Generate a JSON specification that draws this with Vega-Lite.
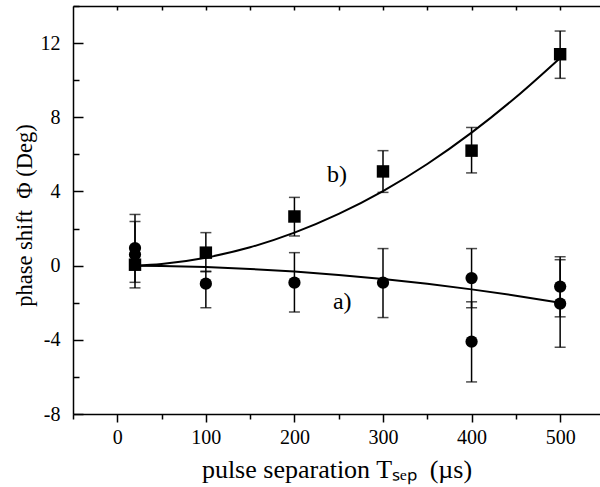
{
  "$schema": "https://vega.github.io/schema/vega-lite/v6.json",
  "width": 527,
  "height": 408,
  "autosize": {"type": "none"},
  "padding": {"left": 73, "top": 6, "right": 0, "bottom": 73},
  "background": "white",
  "config": {
    "view": {"stroke": null},
    "axis": {
      "domainColor": "black", "domainWidth": 1.5, "tickColor": "black", "tickWidth": 1.5,
      "labelFont": "Liberation Serif", "labelFontSize": 20, "labelColor": "black",
      "titleFont": "Liberation Serif", "titleColor": "black", "titleFontWeight": "normal",
      "grid": false
    }
  },
  "datasets": {
    "points": [
      {"series": "b", "x": 20, "y": 0.05, "lo": null, "hi": null},
      {"series": "b", "x": 100, "y": 0.7, "lo": -0.33, "hi": 1.78},
      {"series": "b", "x": 200, "y": 2.65, "lo": 1.6, "hi": 3.68},
      {"series": "b", "x": 300, "y": 5.08, "lo": 3.95, "hi": 6.2},
      {"series": "b", "x": 400, "y": 6.2, "lo": 5.0, "hi": 7.45},
      {"series": "b", "x": 500, "y": 11.4, "lo": 10.1, "hi": 12.65},
      {"series": "a", "x": 20, "y": 0.95, "lo": -0.9, "hi": 2.76},
      {"series": "a", "x": 20, "y": 0.6, "lo": -1.2, "hi": 2.38},
      {"series": "a", "x": 100, "y": -0.97, "lo": -2.27, "hi": -0.3},
      {"series": "a", "x": 200, "y": -0.92, "lo": -2.5, "hi": 0.7},
      {"series": "a", "x": 300, "y": -0.92, "lo": -2.8, "hi": 0.92},
      {"series": "a", "x": 400, "y": -0.67, "lo": -2.27, "hi": 0.92},
      {"series": "a", "x": 400, "y": -4.1, "lo": -6.27, "hi": -1.95},
      {"series": "a", "x": 500, "y": -1.13, "lo": -2.76, "hi": 0.48},
      {"series": "a", "x": 500, "y": -2.05, "lo": -4.4, "hi": 0.32}
    ],
    "curves": [
      {"series": "b", "x": 20, "y": 0},
      {"series": "b", "x": 50, "y": 0.09},
      {"series": "b", "x": 100, "y": 0.43},
      {"series": "b", "x": 150, "y": 0.99},
      {"series": "b", "x": 200, "y": 1.78},
      {"series": "b", "x": 250, "y": 2.79},
      {"series": "b", "x": 300, "y": 4.02},
      {"series": "b", "x": 350, "y": 5.48},
      {"series": "b", "x": 400, "y": 7.17},
      {"series": "b", "x": 450, "y": 9.08},
      {"series": "b", "x": 500, "y": 11.2},
      {"series": "a", "x": 20, "y": 0},
      {"series": "a", "x": 50, "y": -0.017},
      {"series": "a", "x": 100, "y": -0.077},
      {"series": "a", "x": 150, "y": -0.18},
      {"series": "a", "x": 200, "y": -0.32},
      {"series": "a", "x": 250, "y": -0.5},
      {"series": "a", "x": 300, "y": -0.72},
      {"series": "a", "x": 350, "y": -0.98},
      {"series": "a", "x": 400, "y": -1.28},
      {"series": "a", "x": 450, "y": -1.62},
      {"series": "a", "x": 500, "y": -2.0}
    ],
    "labels": [
      {"x": 248, "y": 4.9, "text": "b)"},
      {"x": 254, "y": -1.95, "text": "a)"}
    ]
  },
  "layer": [
    {
      "data": {"name": "curves"},
      "mark": {"type": "line", "color": "black", "strokeWidth": 2, "interpolate": "monotone"},
      "encoding": {
        "x": {"field": "x", "type": "quantitative", "scale": {"domain": [-50, 545], "nice": false, "zero": false},
          "axis": {"orient": "bottom", "values": [0, 100, 200, 300, 400, 500], "tickSize": 8, "labelPadding": 5,
            "title": "pulse separation Tₛₑₚ\u00a0\u00a0(µs)", "titleFontSize": 26, "titleY": 63, "titleBaseline": "alphabetic"}},
        "y": {"field": "y", "type": "quantitative", "scale": {"domain": [-8, 14], "nice": false, "zero": false},
          "axis": {"orient": "left", "values": [-8, -4, 0, 4, 8, 12], "tickSize": -10, "labelPadding": 23,
            "labelExpr": "'' + datum.value",
            "title": "phase shift\u00a0\u00a0Φ (Deg)", "titleFontSize": 22.5, "titleAnchor": "middle", "titleX": -42, "titleY": 209, "titleBaseline": "alphabetic", "titleAngle": -90}},
        "detail": {"field": "series"}
      }
    },
    {
      "data": {"name": "points"},
      "mark": {"type": "rule", "color": "black", "strokeWidth": 1.5},
      "encoding": {
        "x": {"field": "x", "type": "quantitative",
          "axis": {"orient": "bottom", "values": [-50, 50, 150, 250, 350, 450], "tickSize": 5, "labels": false, "domain": false, "title": null}},
        "y": {"field": "lo", "type": "quantitative",
          "axis": {"orient": "left", "values": [-6, -2, 2, 6, 10, 14], "tickSize": -6, "labels": false, "domain": false, "title": null}},
        "y2": {"field": "hi"}
      }
    },
    {
      "data": {"name": "points"},
      "transform": [{"fold": ["lo", "hi"], "as": ["end", "val"]}],
      "mark": {"type": "tick", "color": "black", "thickness": 1.5, "size": 11, "orient": "horizontal"},
      "encoding": {
        "x": {"field": "x", "type": "quantitative",
          "axis": {"orient": "top", "values": [0, 50, 100, 150, 200, 250, 300, 350, 400, 450, 500], "tickSize": -4, "labels": false, "title": null}},
        "y": {"field": "val", "type": "quantitative", "axis": null}
      }
    },
    {
      "data": {"name": "points"},
      "mark": {"type": "point", "filled": true, "opacity": 1, "color": "black"},
      "encoding": {
        "x": {"field": "x", "type": "quantitative", "axis": null},
        "y": {"field": "y", "type": "quantitative", "axis": null},
        "shape": {"field": "series", "type": "nominal", "scale": {"domain": ["a", "b"], "range": ["circle", "square"]}, "legend": null},
        "size": {"field": "series", "type": "nominal", "scale": {"domain": ["a", "b"], "range": [150, 155]}, "legend": null}
      }
    },
    {
      "data": {"name": "labels"},
      "mark": {"type": "text", "font": "Liberation Serif", "fontSize": 24, "color": "black", "baseline": "middle", "align": "center"},
      "encoding": {
        "x": {"field": "x", "type": "quantitative", "axis": null},
        "y": {"field": "y", "type": "quantitative", "axis": null},
        "text": {"field": "text"}
      }
    }
  ],
  "resolve": {"axis": {"x": "independent", "y": "independent"}}
}
